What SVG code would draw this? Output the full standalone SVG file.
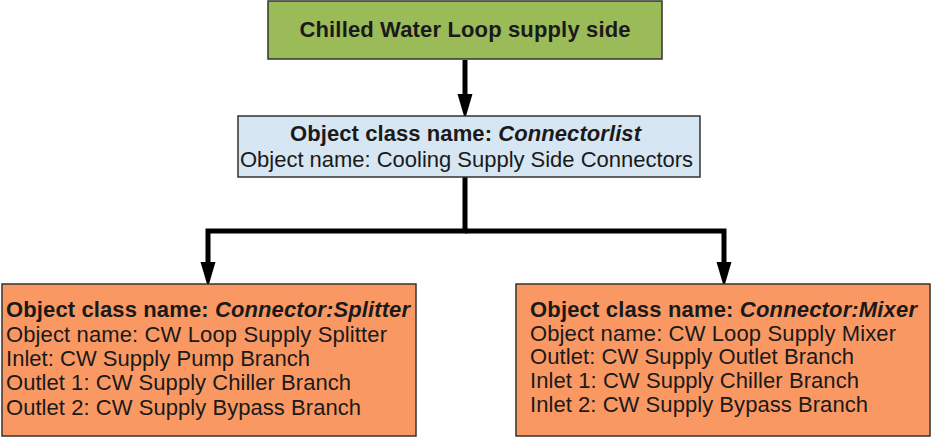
<svg xmlns="http://www.w3.org/2000/svg" width="937" height="442" viewBox="0 0 937 442">
<defs>
<marker id="arr" markerUnits="userSpaceOnUse" markerWidth="22" markerHeight="16" viewBox="0 0 22 16" refX="0" refY="8" orient="auto">
<path d="M0,0.5 L22,7 L22,9 L0,15.5 Z" fill="#000"/>
</marker>
<style>
text{font-family:"Liberation Sans",Arial,sans-serif;font-size:22px;fill:#1a1a1a}
.b{font-weight:bold}
.i{font-style:italic}
.box{stroke:#333;stroke-width:1.5}
.conn{fill:none;stroke:#000;stroke-width:5}
</style>
</defs>
<rect width="937" height="442" fill="#fff"/>
<g id="connectors">
<line class="conn" x1="465" y1="60" x2="465" y2="94" marker-end="url(#arr)"/>
<polyline class="conn" points="465,177 465,231 208,231 208,262" marker-end="url(#arr)"/>
<polyline class="conn" points="465,231 724,231 724,262" marker-end="url(#arr)"/>
</g>
<g id="top">
<rect class="box" x="268" y="1" width="394" height="58" fill="#9BBB59"/>
<text class="b" x="465" y="37" text-anchor="middle" textLength="331" lengthAdjust="spacing">Chilled Water Loop supply side</text>
</g>
<g id="connectorlist">
<rect class="box" x="238" y="116" width="462" height="61" fill="#D7E6F3"/>
<text class="b" x="290" y="141" textLength="351" lengthAdjust="spacing">Object class name: <tspan class="i">Connectorlist</tspan></text>
<text x="240" y="167" textLength="453" lengthAdjust="spacing">Object name: Cooling Supply Side Connectors</text>
</g>
<g id="splitter">
<rect class="box" x="2" y="284" width="414" height="152" fill="#F99863"/>
<text class="b" x="6" y="317" textLength="404" lengthAdjust="spacing">Object class name: <tspan class="i">Connector:Splitter</tspan></text>
<text x="6" y="342" textLength="381" lengthAdjust="spacing">Object name: CW Loop Supply Splitter</text>
<text x="6" y="366" textLength="304" lengthAdjust="spacing">Inlet: CW Supply Pump Branch</text>
<text x="6" y="390" textLength="345" lengthAdjust="spacing">Outlet 1: CW Supply Chiller Branch</text>
<text x="6" y="415" textLength="355" lengthAdjust="spacing">Outlet 2: CW Supply Bypass Branch</text>
</g>
<g id="mixer">
<rect class="box" x="516" y="284" width="414" height="152" fill="#F99863"/>
<text class="b" x="530" y="317" textLength="387" lengthAdjust="spacing">Object class name: <tspan class="i">Connector:Mixer</tspan></text>
<text x="530" y="341" textLength="366" lengthAdjust="spacing">Object name: CW Loop Supply Mixer</text>
<text x="530" y="364" textLength="324" lengthAdjust="spacing">Outlet: CW Supply Outlet Branch</text>
<text x="530" y="388" textLength="329" lengthAdjust="spacing">Inlet 1: CW Supply Chiller Branch</text>
<text x="530" y="412" textLength="338" lengthAdjust="spacing">Inlet 2: CW Supply Bypass Branch</text>
</g>
</svg>
